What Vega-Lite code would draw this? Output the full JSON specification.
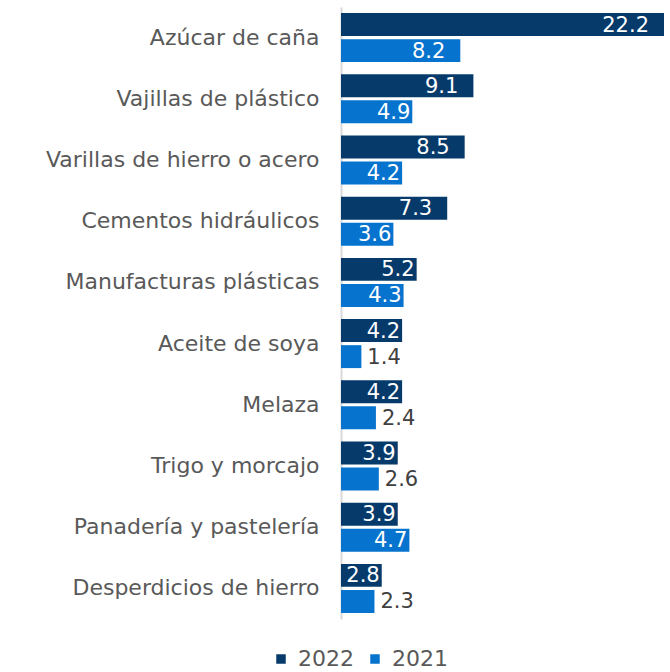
{
  "$schema": "https://vega.github.io/schema/vega-lite/v6.json",
  "width": 670,
  "height": 672,
  "autosize": {"type": "fit", "contains": "padding"},
  "padding": {"left": 45, "top": 7, "right": 6, "bottom": 53},
  "background": "white",
  "config": {"view": {"stroke": null}, "font": "DejaVu Sans"},
  "data": {"values": [
    {"producto": "Azúcar de caña", "anio": "2022", "valor": 22.2},
    {"producto": "Azúcar de caña", "anio": "2021", "valor": 8.2},
    {"producto": "Vajillas de plástico", "anio": "2022", "valor": 9.1},
    {"producto": "Vajillas de plástico", "anio": "2021", "valor": 4.9},
    {"producto": "Varillas de hierro o acero", "anio": "2022", "valor": 8.5},
    {"producto": "Varillas de hierro o acero", "anio": "2021", "valor": 4.2},
    {"producto": "Cementos hidráulicos", "anio": "2022", "valor": 7.3},
    {"producto": "Cementos hidráulicos", "anio": "2021", "valor": 3.6},
    {"producto": "Manufacturas plásticas", "anio": "2022", "valor": 5.2},
    {"producto": "Manufacturas plásticas", "anio": "2021", "valor": 4.3},
    {"producto": "Aceite de soya", "anio": "2022", "valor": 4.2},
    {"producto": "Aceite de soya", "anio": "2021", "valor": 1.4},
    {"producto": "Melaza", "anio": "2022", "valor": 4.2},
    {"producto": "Melaza", "anio": "2021", "valor": 2.4},
    {"producto": "Trigo y morcajo", "anio": "2022", "valor": 3.9},
    {"producto": "Trigo y morcajo", "anio": "2021", "valor": 2.6},
    {"producto": "Panadería y pastelería", "anio": "2022", "valor": 3.9},
    {"producto": "Panadería y pastelería", "anio": "2021", "valor": 4.7},
    {"producto": "Desperdicios de hierro", "anio": "2022", "valor": 2.8},
    {"producto": "Desperdicios de hierro", "anio": "2021", "valor": 2.3}
  ]},
  "encoding": {
    "y": {
      "field": "producto", "type": "nominal", "sort": null,
      "scale": {"paddingInner": 0.2, "paddingOuter": 0.1},
      "axis": {"title": null, "ticks": false, "labelFontSize": 22, "labelColor": "#595959", "labelPadding": 22, "domainColor": "#d9d9d9", "domainWidth": 2, "labelLimit": 400}
    },
    "yOffset": {"field": "anio", "type": "nominal", "sort": ["2022", "2021"], "scale": {"paddingInner": 0.12}},
    "x": {"field": "valor", "type": "quantitative", "scale": {"domain": [0, 22.2], "nice": false}, "axis": null}
  },
  "layer": [
    {
      "mark": {"type": "bar"},
      "encoding": {
        "color": {
          "field": "anio", "type": "nominal",
          "sort": ["2022", "2021"],
          "scale": {"domain": ["2022", "2021"], "range": ["#063a6b", "#0673ce"]},
          "legend": {"title": null, "orient": "none", "legendX": -71, "legendY": 641, "direction": "horizontal", "symbolType": "square", "symbolSize": 90, "labelFontSize": 22, "labelColor": "#595959", "columnPadding": 10, "labelOffset": 6}
        }
      }
    },
    {
      "transform": [{"filter": "datum.valor >= 6"}],
      "mark": {"type": "text", "align": "right", "baseline": "middle", "dx": -15, "dy": 1, "fontSize": 21, "color": "white"},
      "encoding": {"text": {"field": "valor", "type": "quantitative", "format": ".1f"}}
    },
    {
      "transform": [{"filter": "datum.valor >= 2.7 && datum.valor < 6"}],
      "mark": {"type": "text", "align": "right", "baseline": "middle", "dx": -2, "dy": 1, "fontSize": 21, "color": "white"},
      "encoding": {"text": {"field": "valor", "type": "quantitative", "format": ".1f"}}
    },
    {
      "transform": [{"filter": "datum.valor < 2.7"}],
      "mark": {"type": "text", "align": "left", "baseline": "middle", "dx": 6, "dy": 1, "fontSize": 21, "color": "#404040"},
      "encoding": {"text": {"field": "valor", "type": "quantitative", "format": ".1f"}}
    }
  ]
}
